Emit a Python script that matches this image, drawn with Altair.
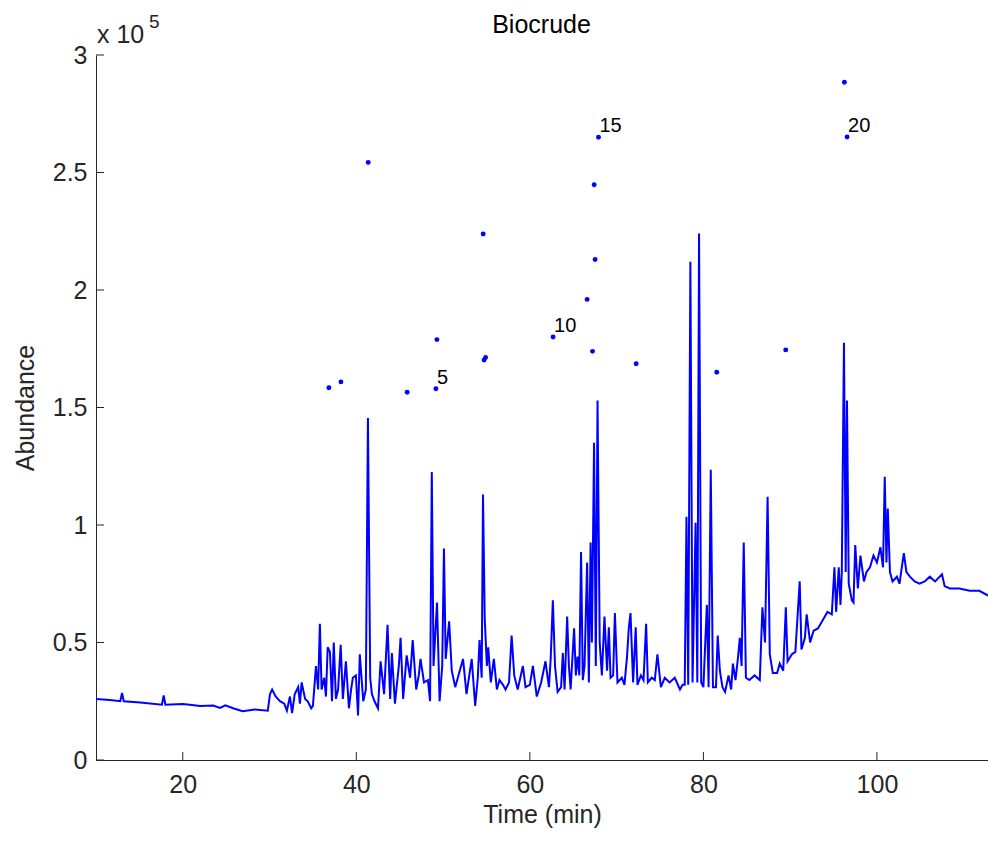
import altair as alt
import pandas as pd

# ---------------- data ----------------
# chromatogram trace: time (min) and abundance (x 10^5)
trace_time = [
    10.0, 11.6, 12.8, 13.0, 13.2, 15.1, 17.6, 17.8, 18.0, 20.0,
    20.8, 22.0, 23.5, 24.3, 24.9, 25.8, 26.9, 28.3, 29.8, 30.05,
    30.3, 30.7, 31.2, 31.7,
    32.0, 32.35, 32.6, 32.9, 33.3, 33.5, 33.7, 34.1, 34.4, 34.8,
    35.0, 35.35, 35.6, 35.8, 36.0, 36.3, 36.5, 36.7, 36.96, 37.2,
    37.4, 37.65, 37.9, 38.2, 38.45, 38.8, 39.15, 39.4, 39.6, 39.95,
    40.2, 40.4, 40.8, 41.1, 41.34, 41.6, 41.8, 42.1, 42.5, 42.8,
    43.2, 43.6, 43.9, 44.1, 44.45, 44.9, 45.1, 45.4, 45.8, 46.2,
    46.5, 46.9, 47.2, 47.4, 47.8, 48.25, 48.5, 48.7, 48.9, 49.3,
    49.6, 49.9, 50.1, 50.3, 50.7, 51.0, 51.4, 51.7, 52.3, 52.7,
    53.3, 53.7, 54.0, 54.2, 54.45, 54.6, 54.8, 55.05, 55.2, 55.5,
    55.85, 56.2, 56.5, 56.9, 57.2, 57.6, 57.9, 58.2, 58.6, 59.2,
    59.5, 60.0, 60.35, 60.8, 61.3, 61.8, 62.2, 62.4, 62.65, 62.9,
    63.2, 63.6, 63.8, 64.0, 64.3, 64.5, 64.7, 65.1, 65.3, 65.5,
    65.7, 65.9, 66.1, 66.3, 66.6, 66.8, 67.0, 67.15, 67.4, 67.6,
    67.8, 68.05, 68.3, 68.6, 68.9, 69.1, 69.3, 69.6, 69.8, 70.1,
    70.6, 70.9, 71.2, 71.4, 71.6, 71.9, 72.2, 72.4, 72.8, 73.1,
    73.4, 73.6, 74.05, 74.4, 74.7, 75.1, 75.55, 76.1, 76.7, 77.3,
    77.6, 77.85, 78.05, 78.25, 78.5, 78.75, 79.1, 79.3, 79.5, 79.75,
    80.0, 80.4, 80.6, 80.85, 81.1, 81.45, 81.65, 81.9, 82.2, 82.5,
    82.9, 83.2, 83.4, 83.7, 84.0, 84.2, 84.4, 84.65, 84.9, 85.3,
    85.9, 86.5, 86.8, 87.1, 87.4, 87.65, 88.0, 88.5, 88.8, 89.2,
    89.5, 89.7, 90.2, 90.6, 91.1, 91.3, 91.7, 91.9, 92.3, 92.7,
    93.2, 93.75, 94.3, 94.8, 95.1, 95.3, 95.6, 95.8, 95.95, 96.2,
    96.4, 96.55, 96.75, 97.1, 97.3, 97.5, 97.8, 98.1, 98.5, 98.8,
    99.2, 99.6, 100.0, 100.4, 100.7, 100.9, 101.1, 101.25, 101.5, 101.8,
    102.3, 102.6, 103.1, 103.4, 103.8, 104.35, 104.9, 105.5, 106.1, 106.7,
    107.5, 107.8, 108.4, 109.5, 110.7, 111.8, 112.8,
]
trace_abund = [
    0.26, 0.255, 0.25, 0.285, 0.25, 0.245, 0.235, 0.275, 0.235, 0.238,
    0.235, 0.23, 0.232, 0.222, 0.233, 0.22, 0.208, 0.215, 0.21, 0.28,
    0.30, 0.27, 0.25, 0.24,
    0.21, 0.27, 0.20, 0.28, 0.31, 0.24, 0.33, 0.26, 0.25, 0.22,
    0.23, 0.40, 0.30, 0.58, 0.30, 0.35, 0.27, 0.48, 0.46, 0.25,
    0.50, 0.26, 0.30, 0.49, 0.26, 0.42, 0.22, 0.30, 0.35, 0.36,
    0.19, 0.45, 0.25, 0.30, 1.455, 0.35, 0.28, 0.25, 0.22, 0.42,
    0.28, 0.575, 0.26, 0.455, 0.24, 0.40, 0.52, 0.26, 0.445, 0.35,
    0.51, 0.30, 0.36, 0.43, 0.33, 0.34, 0.25, 1.225, 0.40, 0.67,
    0.25, 0.40, 0.90, 0.43, 0.59, 0.38, 0.31, 0.35, 0.43, 0.28,
    0.43, 0.23, 0.35, 0.51, 0.35, 1.13, 0.60, 0.40, 0.48, 0.33,
    0.43, 0.30, 0.34, 0.32, 0.30, 0.33, 0.53, 0.36, 0.30, 0.40,
    0.31, 0.32, 0.40, 0.27, 0.33, 0.42, 0.31, 0.43, 0.68, 0.40,
    0.29, 0.31, 0.455, 0.30, 0.61, 0.40, 0.30, 0.56, 0.36, 0.44,
    0.36, 0.885, 0.34, 0.40, 0.84, 0.33, 0.925, 0.50, 1.35, 0.40,
    1.53, 0.50, 0.36, 0.61, 0.38, 0.565, 0.35, 0.36, 0.625, 0.33,
    0.35, 0.32, 0.44, 0.56, 0.625, 0.33, 0.565, 0.32, 0.36, 0.34,
    0.58, 0.33, 0.35, 0.34, 0.45, 0.31, 0.35, 0.33, 0.35, 0.30,
    0.32, 0.32, 1.035, 0.32, 2.12, 0.33, 1.01, 0.33, 2.24, 0.33,
    0.31, 0.66, 0.31, 1.235, 0.31, 0.31, 0.53, 0.38, 0.31, 0.29,
    0.36, 0.30, 0.41, 0.34, 0.44, 0.52, 0.40, 0.925, 0.35, 0.34,
    0.36, 0.34, 0.65, 0.50, 1.12, 0.45, 0.37, 0.37, 0.41, 0.38,
    0.65, 0.42, 0.45, 0.46, 0.76, 0.47, 0.52, 0.62, 0.50, 0.55,
    0.56, 0.595, 0.63, 0.62, 0.82, 0.63, 0.82, 0.66, 0.80, 1.775,
    0.80, 1.53, 0.75, 0.68, 0.67, 0.915, 0.73, 0.87, 0.76, 0.80,
    0.82, 0.87, 0.84, 0.905, 0.82, 1.205, 0.84, 1.07, 0.80, 0.76,
    0.78, 0.75, 0.88, 0.80, 0.78, 0.76, 0.75, 0.76, 0.78, 0.76,
    0.79, 0.74, 0.73, 0.73, 0.72, 0.72, 0.70,
]
assert len(trace_time) == len(trace_abund)

# identified peaks (dots), numbered 1..20
peak_time = [36.84, 38.23, 41.37, 45.86, 49.17, 49.29, 54.62, 54.73, 54.90, 62.68,
             66.60, 67.22, 67.41, 67.52, 67.91, 72.25, 81.54, 89.49, 96.25, 96.56]
peak_abund = [1.584, 1.609, 2.543, 1.565, 1.580, 1.789, 2.238, 1.702, 1.713, 1.800,
              1.960, 1.739, 2.448, 2.130, 2.650, 1.686, 1.650, 1.745, 2.884, 2.651]
peak_num = [1, 2, 3, 4, 5, 6, 7, 8, 9, 10, 11, 12, 13, 14, 15, 16, 17, 18, 19, 20]
labelled_peaks = [5, 10, 15, 20]

x_ticks = [20, 40, 60, 80, 100]
y_ticks = [0, 0.5, 1, 1.5, 2, 2.5, 3]
x_domain = [10, 112.8]
y_domain = [0, 3]

# ---------------- styling ----------------
FONT = "Liberation Sans"
AX = "#262626"
BLUE = "#0000ff"
W, H = 892, 705

trace = pd.DataFrame({"t": trace_time, "a": trace_abund})
peaks = pd.DataFrame({"t": peak_time, "a": peak_abund, "n": peak_num})
labels = peaks[peaks["n"].isin(labelled_peaks)].copy()
labels["lab"] = labels["n"].astype(str)

xscale = alt.Scale(domain=x_domain, nice=False, zero=False)
yscale = alt.Scale(domain=y_domain, nice=False, zero=False)

xaxis = alt.Axis(
    values=x_ticks, title="Time (min)", format="d",
    titleBaseline="alphabetic", titleY=62,
)
yaxis = alt.Axis(
    values=y_ticks, title="Abundance", labelExpr="format(datum.value, '~g')",
    titleBaseline="alphabetic", titleX=-63, labelPadding=9,
)

X = alt.X("t:Q", scale=xscale, axis=xaxis)
Y = alt.Y("a:Q", scale=yscale, axis=yaxis)

line = alt.Chart(trace).mark_line(color=BLUE, strokeWidth=2.0, clip=True).encode(x=X, y=Y)

dots = alt.Chart(peaks).mark_circle(color=BLUE, size=24, opacity=1).encode(x=X, y=Y)

dot_labels = alt.Chart(labels).mark_text(
    align="left", baseline="middle", dx=1, dy=-11,
    font=FONT, fontSize=20, color="black",
).encode(x=X, y=Y, text="lab:N")

# inward-pointing tick marks (MATLAB style)
xt = alt.Chart(pd.DataFrame({"t": x_ticks})).mark_rule(color=AX, strokeWidth=1).encode(
    x=X, y=alt.value(H), y2=alt.value(H - 8),
)
yt = alt.Chart(pd.DataFrame({"a": y_ticks})).mark_rule(color=AX, strokeWidth=1).encode(
    y=Y, x=alt.value(0), x2=alt.value(8),
)

# title and exponent annotation "x 10^5" placed in the top margin
title_txt = alt.Chart(pd.DataFrame({"s": ["Biocrude"]})).mark_text(
    align="center", baseline="alphabetic", font=FONT, fontSize=25, color="black",
).encode(x=alt.value(W / 2 - 0.5), y=alt.value(-22), text="s:N")
exp_base = alt.Chart(pd.DataFrame({"s": ["x 10"]})).mark_text(
    align="left", baseline="alphabetic", font=FONT, fontSize=25, color=AX,
).encode(x=alt.value(1), y=alt.value(-12), text="s:N")
exp_sup = alt.Chart(pd.DataFrame({"s": ["5"]})).mark_text(
    align="left", baseline="alphabetic", font=FONT, fontSize=19, color=AX,
).encode(x=alt.value(53), y=alt.value(-27), text="s:N")

chart = alt.layer(line, xt, yt, dots, dot_labels, title_txt, exp_base, exp_sup).properties(
    width=W, height=H,
    autosize=alt.AutoSizeParams(type="none"),
    padding={"left": 96, "top": 55, "right": 0, "bottom": 86},
    background="white",
).configure_view(stroke=None, strokeWidth=0).configure_axis(
    ticks=False, tickSize=0, grid=False,
    domainColor=AX, domainWidth=1,
    labelFont=FONT, labelFontSize=25, labelColor=AX, labelFlush=False,
    titleFont=FONT, titleFontSize=25, titleFontWeight="normal", titleColor=AX,
).configure_axisX(labelPadding=12)

chart.save("out.html", embed_options={"renderer": "svg", "actions": False})
